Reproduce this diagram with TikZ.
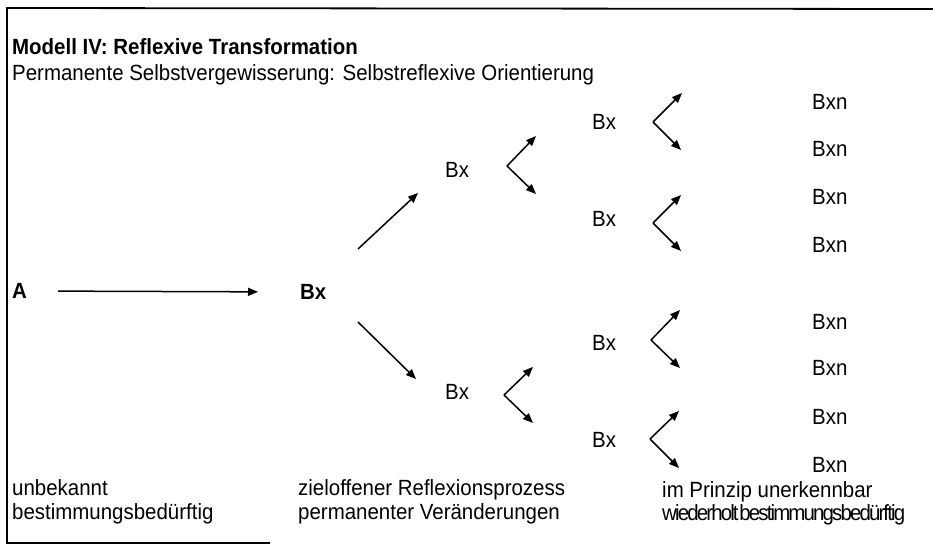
\documentclass[tikz,border=0pt]{standalone}
\usepackage{fontspec}
\setmainfont{Liberation Sans}[FakeStretch=0.93]
\newfontfamily\tightfont{Liberation Sans}[FakeStretch=0.93, LetterSpace=-8.5]
\usetikzlibrary{arrows.meta}
\begin{document}
\begin{tikzpicture}[x=1pt, y=-1pt,
  font=\fontsize{22}{26}\selectfont,
  lbl/.style={inner sep=0pt, anchor=west},
  txt/.style={inner sep=0pt, anchor=base west},
  arr/.style={line width=1.5pt, -{Triangle[length=10pt,width=8pt]}},
  frame/.style={line width=1.8pt}]
\useasboundingbox (0,0) rectangle (933,549);

% open frame: top, left and a short bottom edge
\coordinate (fTR) at (933,9);
\coordinate (fTL) at (7,8);
\coordinate (fBL) at (7,543);
\coordinate (fBR) at (270,543);
\draw[frame] (fTR) -- (fTL) -- (fBL) -- (fBR);

% heading
\node[txt, font=\fontsize{22}{26}\selectfont\bfseries] (title) at (12,54) {Modell IV: Reflexive Transformation};
\node[txt] (sub) at (12,80) {Permanente Selbstvergewisserung: Selbstreflexive Orientierung};

% start and first level
\node[lbl, font=\fontsize{22}{26}\selectfont\bfseries] (A) at (12,291) {A};
\node[lbl, font=\fontsize{22}{26}\selectfont\bfseries] (B0) at (300,292) {Bx};
\draw[arr, shorten <=31pt, shorten >=42pt] (A.east) -- (B0.west);

% second level
\node[lbl] (B1) at (445,170) {Bx};
\node[lbl] (B2) at (445,392) {Bx};
\coordinate (u0s) at (358,249); \coordinate (u0e) at (418,193);
\coordinate (d0s) at (358,322); \coordinate (d0e) at (416,379);
\draw[arr] (u0s) -- (u0e);
\draw[arr] (d0s) -- (d0e);

% forks after the second level
\coordinate (v1) at (507,166); \coordinate (v1u) at (536,136); \coordinate (v1d) at (536,194);
\coordinate (v2) at (504,395); \coordinate (v2u) at (533,367); \coordinate (v2d) at (533,423);
\draw[arr] (v1) -- (v1u); \draw[arr] (v1) -- (v1d);
\draw[arr] (v2) -- (v2u); \draw[arr] (v2) -- (v2d);

% third level
\node[lbl] (C1) at (592,122) {Bx};
\node[lbl] (C2) at (592,219) {Bx};
\node[lbl] (C3) at (592,343) {Bx};
\node[lbl] (C4) at (592,440) {Bx};

\coordinate (w1) at (653,122); \coordinate (w1u) at (682,93);  \coordinate (w1d) at (681,150);
\coordinate (w2) at (653,223); \coordinate (w2u) at (681,195); \coordinate (w2d) at (681,251);
\coordinate (w3) at (651,340); \coordinate (w3u) at (680,310); \coordinate (w3d) at (680,368);
\coordinate (w4) at (650,439); \coordinate (w4u) at (679,411); \coordinate (w4d) at (679,468);
\foreach \v in {w1,w2,w3,w4}{
  \draw[arr] (\v) -- (\v u);
  \draw[arr] (\v) -- (\v d);
}

% fourth level
\foreach \y [count=\i] in {102,149,197,245,322,368,417,465}{
  \node[lbl] (D\i) at (812,\y) {Bxn};
}

% captions
\node[txt] (c1a) at (12,495) {unbekannt};
\node[txt] (c1b) at (12,519) {bestimmungsbedürftig};
\node[txt] (c2a) at (298,495) {zieloffener Reflexionsprozess};
\node[txt] (c2b) at (298,519) {permanenter Veränderungen};
\node[txt] (c3a) at (662,497) {im Prinzip unerkennbar};
\node[txt] (c3b) at (662,520) {\tightfont wiederholt\hspace{-3pt} bestimmungsbedürftig};
\end{tikzpicture}
\end{document}
